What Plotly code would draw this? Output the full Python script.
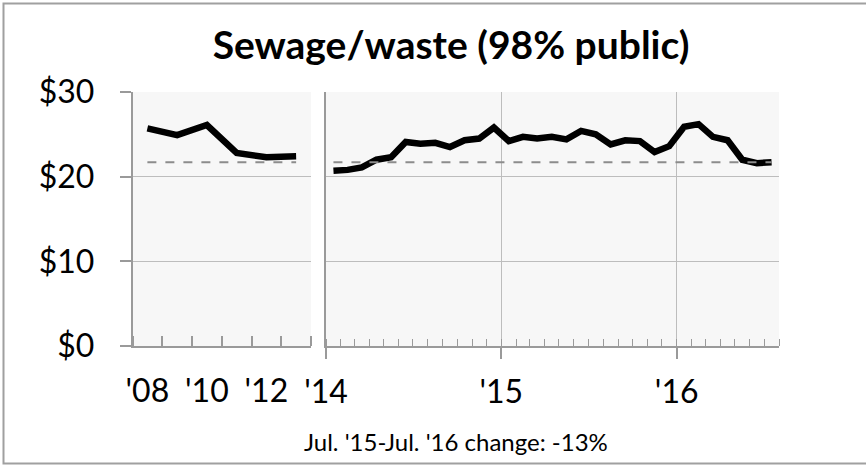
import plotly.graph_objects as go

W, H = 866, 465

# ── data ────────────────────────────────────────────────────────────────
TITLE = "Sewage/waste (98% public)"
NOTE = "Jul. '15-Jul. '16 change: -13%"

early_years = [2008, 2009, 2010, 2011, 2012, 2013]
early_values = [25.7, 24.9, 26.1, 22.8, 22.3, 22.4]
early_tickvals = [2008, 2010, 2012]
early_ticktext = ["'08", "'10", "'12"]

months = [
    "2014-01", "2014-02", "2014-03", "2014-04", "2014-05", "2014-06",
    "2014-07", "2014-08", "2014-09", "2014-10", "2014-11", "2014-12",
    "2015-01", "2015-02", "2015-03", "2015-04", "2015-05", "2015-06",
    "2015-07", "2015-08", "2015-09", "2015-10", "2015-11", "2015-12",
    "2016-01", "2016-02", "2016-03", "2016-04", "2016-05", "2016-06",
    "2016-07",
]
monthly_values = [
    20.7, 20.8, 21.1, 22.0, 22.3, 24.1, 23.9, 24.0, 23.5, 24.3, 24.5, 25.8,
    24.2, 24.7, 24.5, 24.7, 24.4, 25.4, 25.0, 23.8, 24.3, 24.2, 22.9, 23.6,
    25.9, 26.2, 24.7, 24.3, 22.0, 21.6, 21.7,
]
monthly_tickvals = ["2014-01-01", "2015-01-01", "2016-01-01"]
monthly_ticktext = ["'14", "'15", "'16"]

latest_level = 21.7

y_tickvals = [0, 10, 20, 30]
y_ticktext = ["$0", "$10", "$20", "$30"]

# ── style ───────────────────────────────────────────────────────────────
FONT = "Lato"
AXIS_GRAY = "#9a9a9a"
GRID_GRAY = "#bdbdbd"
PLOT_BG = "#f7f7f7"


def px_x(p):
    return p / W


def px_y(p):
    return 1 - p / H


fig = go.Figure()

# main series
fig.add_trace(go.Scatter(
    x=early_years, y=early_values, xaxis="x", yaxis="y",
    mode="lines", line=dict(color="black", width=6.5),
))
fig.add_trace(go.Scatter(
    x=months, y=monthly_values, xaxis="x2", yaxis="y2",
    xperiod="M1", xperiodalignment="middle",
    mode="lines", line=dict(color="black", width=6.5),
))

# reference (latest value) dashed line
fig.add_trace(go.Scatter(
    x=[early_years[0], early_years[-1]], y=[latest_level, latest_level],
    xaxis="x", yaxis="y", mode="lines",
    line=dict(color="#8c8c8c", width=2, dash="dash"),
))
fig.add_trace(go.Scatter(
    x=[months[0], months[-1]], y=[latest_level, latest_level],
    xaxis="x2", yaxis="y2", xperiod="M1", xperiodalignment="middle",
    mode="lines", line=dict(color="#8c8c8c", width=2, dash="dash"),
))

y_dom = [px_y(346), px_y(92)]
tick_font = dict(family=FONT, size=32, color="black")

fig.update_layout(
    width=W, height=H,
    margin=dict(l=0, r=0, t=0, b=0, autoexpand=False),
    paper_bgcolor="white",
    plot_bgcolor=PLOT_BG,
    showlegend=False,
    font=dict(family=FONT, color="black"),
    title=dict(
        text=f"<b>{TITLE}</b>", x=px_x(451), xanchor="center",
        y=px_y(45), yanchor="middle",
        font=dict(family=FONT, size=39, color="black"),
    ),
    xaxis=dict(
        domain=[px_x(132.5), px_x(311)],
        range=[2007.5, 2013.5], automargin=False,
        tickmode="array", tickvals=early_tickvals, ticktext=early_ticktext,
        ticks="", showgrid=False, zeroline=False,
        showline=True, linecolor=AXIS_GRAY, linewidth=1.5,
        tickfont=tick_font, ticklabelstandoff=16,
        minor=dict(tick0=2007.5, dtick=1, ticks="inside", ticklen=10,
                   tickcolor=AXIS_GRAY, tickwidth=1.5, showgrid=False),
        anchor="y", fixedrange=True,
    ),
    yaxis=dict(
        domain=y_dom, range=[0, 30], automargin=False,
        tickmode="array", tickvals=y_tickvals, ticktext=y_ticktext,
        ticks="outside", ticklen=11, tickcolor=AXIS_GRAY, tickwidth=1.5,
        showgrid=True, gridcolor=GRID_GRAY, gridwidth=1.2, zeroline=False,
        showline=True, linecolor=AXIS_GRAY, linewidth=1.5,
        tickfont=tick_font, ticklabelstandoff=19,
        anchor="x", fixedrange=True,
    ),
    xaxis2=dict(
        domain=[px_x(326), px_x(779)], automargin=False,
        type="date", range=["2014-01-01", "2016-08-01"],
        tickmode="array", tickvals=monthly_tickvals, ticktext=monthly_ticktext,
        ticks="outside", ticklen=11, tickcolor=AXIS_GRAY, tickwidth=1.5,
        showgrid=True, gridcolor=GRID_GRAY, gridwidth=1.2, zeroline=False,
        showline=True, linecolor=AXIS_GRAY, linewidth=1.5,
        tickfont=tick_font, ticklabelstandoff=6,
        minor=dict(tick0="2014-01-01", dtick="M1", ticks="inside", ticklen=7,
                   tickcolor=AXIS_GRAY, tickwidth=1.2, showgrid=False),
        anchor="y2", fixedrange=True,
    ),
    yaxis2=dict(
        domain=y_dom, range=[0, 30], automargin=False,
        tickmode="array", tickvals=y_tickvals, showticklabels=False,
        ticks="", showgrid=True, gridcolor=GRID_GRAY, gridwidth=1.2,
        zeroline=False, showline=True, linecolor=AXIS_GRAY, linewidth=1.5,
        anchor="x2", fixedrange=True,
    ),
    annotations=[dict(
        text=NOTE, xref="paper", yref="paper",
        x=px_x(456), y=px_y(441), xanchor="center", yanchor="middle",
        showarrow=False, font=dict(family=FONT, size=24, color="black"),
    )],
    shapes=[dict(
        type="rect", xref="paper", yref="paper",
        x0=px_x(3.5), x1=1.02, y0=px_y(463.5), y1=px_y(3.5),
        line=dict(color="#a0a0a0", width=2), layer="below",
    )],
)

# page body has an 8px default margin; drop it so the figure fills the window
fig.write_html(
    "out.html",
    config={"displayModeBar": False},
    post_script="document.body.style.margin = '0px';",
)
